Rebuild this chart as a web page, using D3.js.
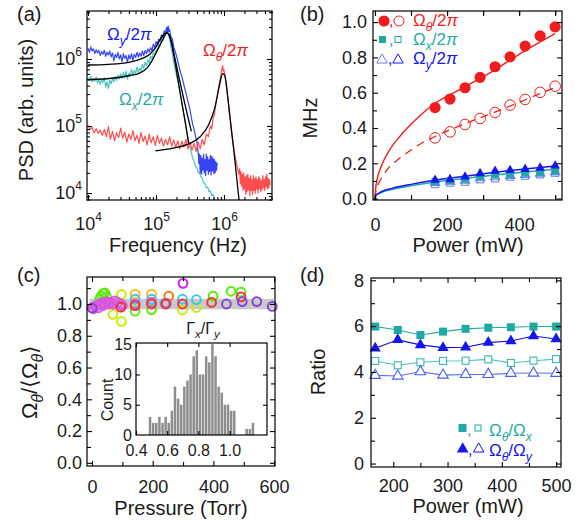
<!DOCTYPE html>
<html>
<head>
<meta charset="utf-8">
<script src="https://cdn.jsdelivr.net/npm/d3@7"></script>
<style>
  body { margin: 0; background: #fff; }
  svg { font-family: "Liberation Sans", Arial, Helvetica, sans-serif; }
</style>
</head>
<body>
<div id="chart"></div>
<script>

// (a) PSD traces as [log10(f / Hz), log10(PSD)]
var psdY = [[4.00,6.16],[4.02,6.10],[4.04,6.18],[4.06,6.12],[4.08,6.15],[4.10,6.08],[4.12,6.14],[4.14,6.09],
  [4.16,6.13],[4.18,6.05],[4.20,6.11],[4.22,6.07],[4.24,6.13],[4.26,6.04],[4.28,6.10],[4.30,6.06],[4.32,6.12],
  [4.34,6.03],[4.36,6.09],[4.38,5.97],[4.40,6.07],[4.42,6.02],[4.44,6.10],[4.46,6.00],[4.48,6.06],[4.50,5.96],
  [4.52,6.08],[4.54,6.01],[4.56,6.05],[4.58,5.95],[4.60,6.06],[4.62,6.00],[4.64,6.08],[4.66,5.98],[4.68,6.07],
  [4.70,6.02],[4.72,6.10],[4.74,6.03],[4.76,6.09],[4.78,6.04],[4.80,6.12],[4.82,6.05],[4.84,6.13],[4.86,6.08],
  [4.88,6.15],[4.90,6.10],[4.92,6.17],[4.94,6.12],[4.96,6.22],[4.98,6.17],[5.00,6.26],[5.02,6.22],[5.04,6.30],
  [5.06,6.27],[5.08,6.36],[5.10,6.32],[5.12,6.42],[5.14,6.38],[5.16,6.47],[5.17,6.40],[5.18,6.49],[5.19,6.41],
  [5.20,6.44],[5.22,6.33],[5.24,6.30],[5.26,6.18],[5.28,6.12],[5.30,6.05],[5.32,5.97],[5.34,5.88],[5.36,5.80],
  [5.38,5.74],[5.40,5.66],[5.42,5.57],[5.44,5.50],[5.46,5.40],[5.48,5.33],[5.50,5.24],[5.52,5.12],[5.54,5.02],
  [5.56,4.95],[5.58,4.85],[5.60,4.78],[5.62,4.60],[5.63,4.44],[5.64,4.58],[5.65,4.30],[5.66,4.56],[5.67,4.28],
  [5.68,4.52],[5.69,4.34],[5.70,4.58],[5.71,4.30],[5.72,4.50],[5.73,4.26],[5.74,4.58],[5.75,4.34],[5.76,4.54],
  [5.77,4.28],[5.78,4.50],[5.79,4.32],[5.80,4.56],[5.81,4.27],[5.82,4.55],[5.83,4.33],[5.84,4.52],[5.85,4.29],
  [5.86,4.50],[5.87,4.30],[5.88,4.47],[5.89,4.34],[5.90,4.45]];

var psdX = [[4.00,5.72],[4.02,5.68],[4.04,5.74],[4.06,5.66],[4.08,5.71],[4.10,5.67],[4.12,5.73],[4.14,5.64],
  [4.16,5.70],[4.18,5.62],[4.20,5.69],[4.22,5.65],[4.24,5.72],[4.26,5.58],[4.28,5.66],[4.30,5.56],[4.32,5.68],
  [4.34,5.63],[4.36,5.72],[4.38,5.66],[4.40,5.74],[4.42,5.68],[4.44,5.76],[4.46,5.70],[4.48,5.78],[4.50,5.71],
  [4.52,5.80],[4.54,5.72],[4.56,5.82],[4.58,5.70],[4.60,5.79],[4.62,5.74],[4.64,5.85],[4.66,5.76],[4.68,5.83],
  [4.70,5.78],[4.72,5.88],[4.74,5.80],[4.76,5.86],[4.78,5.82],[4.80,5.92],[4.82,5.86],[4.84,5.95],[4.86,5.90],
  [4.88,5.99],[4.90,5.94],[4.92,6.04],[4.94,6.00],[4.96,6.09],[4.98,6.06],[5.00,6.14],[5.02,6.12],[5.04,6.22],
  [5.06,6.20],[5.08,6.30],[5.10,6.27],[5.12,6.38],[5.14,6.36],[5.15,6.46],[5.16,6.40],[5.17,6.48],[5.18,6.36],
  [5.20,6.30],[5.22,6.18],[5.24,6.08],[5.26,5.96],[5.28,5.86],[5.30,5.76],[5.32,5.67],[5.34,5.56],[5.36,5.45],
  [5.38,5.35],[5.40,5.22],[5.42,5.11],[5.44,4.98],[5.46,4.88],[5.48,4.76],[5.50,4.68],[5.52,4.60],[5.54,4.52],
  [5.56,4.47],[5.58,4.40],[5.60,4.38],[5.62,4.31],[5.64,4.30],[5.66,4.24],[5.68,4.22],[5.70,4.15],[5.72,4.14],
  [5.74,4.08],[5.76,4.09],[5.78,4.02],[5.80,4.03],[5.82,3.96],[5.84,3.98],[5.86,3.91],[5.88,3.88]];

var psdTheta = [[4.00,5.01],[4.03,4.95],[4.06,4.98],[4.09,4.90],[4.12,4.96],[4.15,4.89],[4.18,4.94],[4.21,4.86],
  [4.24,4.95],[4.27,4.84],[4.30,4.99],[4.33,4.80],[4.36,4.92],[4.39,4.78],[4.42,4.90],[4.45,4.83],[4.48,4.97],
  [4.51,4.82],[4.54,4.91],[4.57,4.76],[4.60,4.88],[4.63,4.80],[4.66,4.93],[4.69,4.78],[4.72,4.86],[4.75,4.74],
  [4.78,4.90],[4.81,4.77],[4.84,4.85],[4.87,4.72],[4.90,4.88],[4.93,4.75],[4.96,4.84],[4.99,4.71],[5.02,4.86],
  [5.05,4.74],[5.08,4.82],[5.11,4.70],[5.14,4.80],[5.17,4.72],[5.20,4.84],[5.23,4.70],[5.26,4.79],[5.29,4.68],
  [5.32,4.78],[5.35,4.66],[5.38,4.77],[5.41,4.69],[5.44,4.80],[5.47,4.66],[5.50,4.76],[5.53,4.64],[5.56,4.74],
  [5.59,4.62],[5.62,4.76],[5.65,4.66],[5.68,4.80],[5.71,4.72],[5.74,4.88],[5.77,4.84],[5.80,5.00],[5.82,4.96],
  [5.84,5.12],[5.86,5.18],[5.88,5.34],[5.90,5.44],[5.92,5.58],[5.94,5.68],[5.96,5.80],[5.97,5.86],[5.98,5.90],
  [5.99,5.82],[6.00,5.84],[6.02,5.70],[6.04,5.56],[6.06,5.38],[6.08,5.18],[6.10,5.00],[6.12,4.84],[6.14,4.70],
  [6.16,4.56],[6.18,4.46],[6.20,4.36],[6.22,4.28],[6.23,4.36],[6.24,4.14],[6.25,4.32],[6.26,4.10],[6.27,4.28],
  [6.28,4.04],[6.29,4.30],[6.30,4.06],[6.31,4.24],[6.32,3.98],[6.33,4.26],[6.34,4.02],[6.35,4.28],[6.36,4.05],
  [6.37,4.22],[6.38,3.96],[6.39,4.26],[6.40,4.04],[6.41,4.20],[6.42,3.98],[6.43,4.26],[6.44,4.04],[6.45,4.22],
  [6.46,4.00],[6.47,4.24],[6.48,4.06],[6.49,4.20],[6.50,4.00],[6.51,4.24],[6.52,4.06],[6.53,4.22],[6.54,4.02],
  [6.55,4.18],[6.56,4.05],[6.57,4.26],[6.58,4.08],[6.59,4.20],[6.60,4.04],[6.61,4.24],[6.62,4.10],[6.63,4.28],
  [6.64,4.06],[6.65,4.22],[6.66,4.08],[6.67,4.20],[6.68,4.12]];

var fitY = [[4.00,5.91],[4.30,5.92],[4.60,5.95],[4.80,6.01],[4.91,6.07],[5.00,6.18],[5.05,6.27],[5.10,6.35],
  [5.15,6.39],[5.19,6.37],[5.23,6.25],[5.27,6.05],[5.32,5.81],[5.37,5.58],[5.42,5.35],[5.47,5.13],[5.52,4.92]];
var fitX = [[4.00,5.69],[4.42,5.72],[4.60,5.75],[4.76,5.79],[4.88,5.88],[4.96,6.01],[5.04,6.17],[5.11,6.31],
  [5.16,6.39],[5.21,6.31],[5.25,6.12],[5.29,5.89],[5.34,5.59],[5.39,5.29],[5.44,5.00],[5.48,4.74]];
var fitTheta = [[4.99,4.63],[5.25,4.67],[5.50,4.74],[5.65,4.84],[5.77,5.01],[5.87,5.29],[5.93,5.59],
  [5.98,5.78],[6.01,5.76],[6.06,5.39],[6.11,4.94],[6.16,4.49],[6.21,4.00],[6.23,3.82]];

// (b) and (d) share the laser powers (mW)
var power = [166.7, 208.3, 250, 291.7, 333.3, 375, 416.7, 458.3, 500];
var thetaFilled = [0.516, 0.564, 0.628, 0.687, 0.747, 0.803, 0.864, 0.922, 0.973];
var thetaOpen = [0.344, 0.378, 0.420, 0.454, 0.488, 0.530, 0.562, 0.602, 0.637];
var omYFilled = [0.105, 0.109, 0.124, 0.143, 0.156, 0.161, 0.167, 0.174, 0.186];
var omXFilled = [0.095, 0.101, 0.110, 0.124, 0.133, 0.137, 0.143, 0.148, 0.156];
var omYOpen = [0.090, 0.097, 0.103, 0.116, 0.122, 0.130, 0.135, 0.142, 0.150];
var omXOpen = [0.082, 0.090, 0.095, 0.109, 0.114, 0.124, 0.129, 0.137, 0.146];

// fit curves in (b), [power, MHz]
var fitThetaSolid = [[0,0],[2,0.06],[5,0.10],[19,0.19],[42,0.28],[70,0.355],[112,0.445],[167,0.54],
  [232,0.615],[325,0.72],[418,0.84],[500,0.935]];
var fitThetaDash = [[0,0],[2,0.035],[5,0.06],[15,0.105],[32,0.16],[60,0.215],[100,0.275],[130,0.315],
  [167,0.352],[208,0.39],[250,0.425],[333,0.49],[417,0.56],[500,0.63]];
var fitYSolid = [[0,0],[3,0.02],[10,0.03],[19,0.04],[47,0.058],[103,0.082],[163,0.104],[249,0.127],
  [333,0.149],[416,0.168],[500,0.185]];
var fitXSolid = [[0,0],[3,0.018],[10,0.027],[19,0.036],[47,0.052],[103,0.074],[163,0.093],[249,0.114],
  [333,0.134],[416,0.151],[500,0.166]];

// (c) normalised Omega_theta vs pressure, grouped by marker colour: [Torr, value]
var cLime = [[25,1.03],[30,1.05],[36,1.065],[42,1.07],[48,1.045],[142,0.955],[196,0.965],[399,1.05],[458,1.08],[491,1.075]];
var cYellowGreen = [[69,0.935],[97,0.89],[97,1.06],[298,0.962],[344,0.978]];
var cGold = [[142,1.062],[196,1.062]];
var cOrange = [[253,1.05]];
var cCyan = [[142,1.03],[196,1.03],[240,1.005],[298,1.03],[344,1.027]];
var cPink = [[5,0.97],[10,0.985],[15,0.99],[20,0.975],[25,1.0],[30,1.005],[35,0.99],[40,1.01],[45,1.0],
  [50,1.015],[55,1.0],[60,1.01],[70,1.0],[75,1.02],[85,1.01],[95,1.0],[100,0.99],[142,1.0],[196,1.01],[245,1.005]];
var cRed = [[95,0.98],[142,0.99],[196,1.0],[243,1.0],[298,1.0],[394,1.01],[491,1.045]];
var cPurple = [[0,0.975],[443,1.0],[495,1.015],[543,1.015],[594,0.985]];
var cMagenta = [[300,1.13]];
var cBand = [0.967, 1.033];

// (c) inset histogram of Gamma_x/Gamma_y
var histLeft = [0.48,0.50,0.52,0.54,0.56,0.58,0.60,0.62,0.64,0.66,0.68,0.70,0.72,0.74,0.76,0.78,0.80,
  0.82,0.84,0.86,0.88,0.90,0.92,0.94,0.96,0.98,1.00,1.02,1.10,1.12,1.14];
var histCount = [3,2,2,3,2,3,2,4,8,6,5,8,9,10,13,14,10,10,13,12,15,13,8,7,5,5,4,4,1,1,2];
var histBin = 0.02;

// (d) frequency ratios
var ratioXFilled = [5.98, 5.83, 5.61, 5.76, 5.88, 5.93, 5.95, 5.98, 5.98];
var ratioYFilled = [5.03, 5.40, 5.18, 5.06, 5.08, 5.28, 5.35, 5.57, 5.44];
var ratioXOpen = [4.48, 4.29, 4.42, 4.48, 4.49, 4.55, 4.39, 4.49, 4.56];
var ratioYOpen = [3.85, 3.82, 4.01, 3.86, 3.89, 3.89, 3.94, 3.95, 3.94];

// ticks
var aMajor = [1e4, 1e5, 1e6];
var bXTicks = [0, 100, 200, 300, 400, 500], bXLabels = [0, 200, 400];
var bYTicks = [0.1, 0.3, 0.5, 0.7, 0.9], bYLabels = [0, 0.2, 0.4, 0.6, 0.8, 1.0];
var cXTicks = [100, 300, 500], cXLabels = [0, 200, 400, 600];
var cYTicks = [0.1, 0.3, 0.5, 0.7, 0.9, 1.1], cYLabels = [0, 0.2, 0.4, 0.6, 0.8, 1.0];
var insXLabels = [0.4, 0.6, 0.8, 1.0], insYLabels = [0, 5, 10, 15];
var dXTicks = [250, 350, 450], dXLabels = [200, 300, 400, 500];
var dYTicks = [1, 3, 5, 7], dYLabels = [0, 2, 4, 6, 8];

var RED = "#ee1c1c", BLUE = "#1515ee", TEAL = "#1fa9a3", INK = "#1a1a1a";

var svg = d3.select("#chart").append("svg")
    .attr("width", 584)
    .attr("height", 522);

var clipN = 0;
function clipped(x, y) {
  var id = "clip" + (clipN++);
  svg.append("clipPath").attr("id", id).append("rect")
      .attr("x", x.range()[0]).attr("y", y.range()[1])
      .attr("width", x.range()[1] - x.range()[0])
      .attr("height", y.range()[0] - y.range()[1]);
  return svg.append("g").attr("clip-path", "url(#" + id + ")");
}

function ticks(x, y, xv, yv, len) {
  var b = y.range()[0], t = y.range()[1], l = x.range()[0], r = x.range()[1];
  var g = svg.append("g");
  g.append("g").attr("transform", "translate(0," + b + ")")
      .call(d3.axisBottom(x).tickValues(xv).tickSize(-len).tickFormat(""));
  g.append("g").attr("transform", "translate(0," + t + ")")
      .call(d3.axisTop(x).tickValues(xv).tickSize(-len).tickFormat(""));
  g.append("g").attr("transform", "translate(" + l + ",0)")
      .call(d3.axisLeft(y).tickValues(yv).tickSize(-len).tickFormat(""));
  g.append("g").attr("transform", "translate(" + r + ",0)")
      .call(d3.axisRight(y).tickValues(yv).tickSize(-len).tickFormat(""));
  g.selectAll(".domain").remove();
  g.selectAll("line").attr("stroke", "#000").attr("stroke-width", 1.1);
}

function labels(axis, x, y, vals, pad, fmt, size) {
  var g = svg.append("g");
  if (axis === "x") {
    g.attr("transform", "translate(0," + y.range()[0] + ")")
      .call(d3.axisBottom(x).tickValues(vals).tickSize(0).tickPadding(pad).tickFormat(fmt));
  } else {
    g.attr("transform", "translate(" + x.range()[0] + ",0)")
      .call(d3.axisLeft(y).tickValues(vals).tickSize(0).tickPadding(pad).tickFormat(fmt));
  }
  g.attr("font-family", null).attr("font-size", size);
  g.select(".domain").remove();
  g.selectAll("text").attr("fill", INK);
  return g;
}

function frame(x, y) {
  svg.append("rect")
      .attr("x", x.range()[0]).attr("y", y.range()[1])
      .attr("width", x.range()[1] - x.range()[0])
      .attr("height", y.range()[0] - y.range()[1])
      .attr("fill", "none").attr("stroke", "#000").attr("stroke-width", 1.2);
}

// parts: [text, style] with style "n", "i", "sub" or "subi"
function rich(x, y, size, color, parts, anchor, rotate) {
  var t = svg.append("text")
      .attr("x", x).attr("y", y)
      .attr("font-size", size + "px")
      .attr("fill", color)
      .attr("text-anchor", anchor || "start");
  if (rotate) t.attr("transform", "rotate(-90)");
  var shift = 0;
  parts.forEach(function(p) {
    var s = t.append("tspan").text(p[0]);
    var isSub = p[1] === "sub" || p[1] === "subi";
    var want = isSub ? size * 0.28 : 0;
    if (want !== shift) { s.attr("dy", (want - shift) + "px"); shift = want; }
    if (isSub) s.attr("font-size", (size * 0.72) + "px");
    if (p[1] === "i" || p[1] === "subi") s.attr("font-style", "italic");
  });
  return t;
}

function powTen(g) {
  g.selectAll(".tick text").each(function(d) {
    var t = d3.select(this).text("");
    t.append("tspan").text("10");
    t.append("tspan").attr("dy", "-9px").attr("font-size", "12px").text(Math.round(Math.log10(d)));
  });
}

function sym(type, size) { return d3.symbol().type(type).size(size)(); }

// ---------- (a) ----------
var ax = d3.scaleLog().domain([Math.pow(10, 3.985), Math.pow(10, 6.706)]).range([87, 272]),
    ay = d3.scaleLog().domain([Math.pow(10, 3.896), Math.pow(10, 6.716)]).range([200, 11]);

var aLine = d3.line()
    .x(function(d) { return ax(Math.pow(10, d[0])); })
    .y(function(d) { return ay(Math.pow(10, d[1])); });
var aFit = d3.line().curve(d3.curveMonotoneX)
    .x(function(d) { return ax(Math.pow(10, d[0])); })
    .y(function(d) { return ay(Math.pow(10, d[1])); });

var ga = clipped(ax, ay);
[[psdX, "#35bcbc"], [psdY, "#2030f5"], [psdTheta, "#ff3a3a"]].forEach(function(s) {
  ga.append("path").datum(s[0]).attr("d", aLine)
      .attr("fill", "none").attr("stroke", s[1]).attr("stroke-width", 1.2)
      .attr("stroke-linejoin", "round").attr("opacity", 0.9);
});
[fitY, fitX, fitTheta].forEach(function(f) {
  ga.append("path").datum(f).attr("d", aFit)
      .attr("fill", "none").attr("stroke", "#000").attr("stroke-width", 1.3);
});

var aMinorX = ax.ticks().filter(function(d) { return aMajor.indexOf(d) < 0; }),
    aMinorY = ay.ticks().filter(function(d) { return aMajor.indexOf(d) < 0; });
ticks(ax, ay, aMajor, aMajor, 5);
ticks(ax, ay, aMinorX, aMinorY, 3);
labels("x", ax, ay, aMajor, 17, d3.format("d"), 18).call(powTen);
labels("y", ax, ay, aMajor, 5, d3.format("d"), 18).call(powTen);
frame(ax, ay);

rich(107, 40, 17, BLUE, [["Ω", "n"], ["y", "subi"], ["/2", "n"], ["π", "i"]]);
rich(119, 105, 17, TEAL, [["Ω", "n"], ["x", "subi"], ["/2", "n"], ["π", "i"]]);
rich(203, 56, 17, RED, [["Ω", "n"], ["θ", "subi"], ["/2", "n"], ["π", "i"]]);
rich(-110, 33, 20, INK, [["PSD (arb. units)", "n"]], "middle", true);
rich(178, 252, 20, INK, [["Frequency (Hz)", "n"]], "middle");

// ---------- (b) ----------
var bx = d3.scaleLinear().domain([-5.5, 519]).range([373, 562]),
    by = d3.scaleLinear().domain([-0.008, 1.063]).range([200, 11]);

var bLine = d3.line().curve(d3.curveMonotoneX)
    .x(function(d) { return bx(d[0]); })
    .y(function(d) { return by(d[1]); });

var gb = clipped(bx, by);
gb.append("path").datum(fitThetaSolid).attr("d", bLine)
    .attr("fill", "none").attr("stroke", RED).attr("stroke-width", 1.4);
gb.append("path").datum(fitThetaDash).attr("d", bLine)
    .attr("fill", "none").attr("stroke", RED).attr("stroke-width", 1.3).attr("stroke-dasharray", "8,6");
gb.append("path").datum(fitXSolid).attr("d", bLine)
    .attr("fill", "none").attr("stroke", TEAL).attr("stroke-width", 1.5);
gb.append("path").datum(fitYSolid).attr("d", bLine)
    .attr("fill", "none").attr("stroke", BLUE).attr("stroke-width", 1.5);

gb.selectAll(".om-xo").data(omXOpen).enter().append("rect")
    .attr("x", function(d, i) { return bx(power[i]) - 3.5; })
    .attr("y", function(d) { return by(d) - 3.5; })
    .attr("width", 7).attr("height", 7)
    .attr("fill", "none").attr("stroke", "#7d8fe6").attr("stroke-width", 1.2);
gb.selectAll(".om-yo").data(omYOpen).enter().append("path")
    .attr("d", sym(d3.symbolTriangle, 38))
    .attr("transform", function(d, i) { return "translate(" + bx(power[i]) + "," + by(d) + ")"; })
    .attr("fill", "none").attr("stroke", "#6a7cff").attr("stroke-width", 1.1);
gb.selectAll(".om-xf").data(omXFilled).enter().append("rect")
    .attr("x", function(d, i) { return bx(power[i]) - 3.5; })
    .attr("y", function(d) { return by(d) - 3.5; })
    .attr("width", 7).attr("height", 7)
    .attr("fill", TEAL);
gb.selectAll(".om-yf").data(omYFilled).enter().append("path")
    .attr("d", sym(d3.symbolTriangle, 40))
    .attr("transform", function(d, i) { return "translate(" + bx(power[i]) + "," + by(d) + ")"; })
    .attr("fill", BLUE);
gb.selectAll(".th-o").data(thetaOpen).enter().append("circle")
    .attr("cx", function(d, i) { return bx(power[i]); })
    .attr("cy", function(d) { return by(d); })
    .attr("r", 5.3)
    .attr("fill", "none").attr("stroke", RED).attr("stroke-width", 1);
gb.selectAll(".th-f").data(thetaFilled).enter().append("circle")
    .attr("cx", function(d, i) { return bx(power[i]); })
    .attr("cy", function(d) { return by(d); })
    .attr("r", 5.6)
    .attr("fill", RED);

ticks(bx, by, bXTicks, bYLabels, 5);
ticks(bx, by, bXTicks, bYTicks, 4);
labels("x", bx, by, bXLabels, 18, d3.format("d"), 18);
labels("y", bx, by, bYLabels, 6, d3.format(".1f"), 18);
frame(bx, by);

svg.append("circle").attr("cx", 384).attr("cy", 21).attr("r", 5.6).attr("fill", RED);
svg.append("circle").attr("cx", 399).attr("cy", 21).attr("r", 5).attr("fill", "none").attr("stroke", RED).attr("stroke-width", 1);
svg.append("rect").attr("x", 379).attr("y", 36).attr("width", 7).attr("height", 7).attr("fill", TEAL);
svg.append("rect").attr("x", 395).attr("y", 36.5).attr("width", 6).attr("height", 6).attr("fill", "none").attr("stroke", TEAL).attr("stroke-width", 1);
svg.append("path").attr("d", sym(d3.symbolTriangle, 48)).attr("transform", "translate(382,60)")
    .attr("fill", "none").attr("stroke", "#6a7cff").attr("stroke-width", 1);
svg.append("path").attr("d", sym(d3.symbolTriangle, 48)).attr("transform", "translate(398,60)")
    .attr("fill", "none").attr("stroke", BLUE).attr("stroke-width", 1);
rich(389, 26, 16, RED, [[",", "n"]]);
rich(389, 45, 16, TEAL, [[",", "n"]]);
rich(388, 64, 16, BLUE, [[",", "n"]]);
rich(413, 26, 17, RED, [["Ω", "n"], ["θ", "subi"], ["/2", "n"], ["π", "i"]]);
rich(413, 45, 17, TEAL, [["Ω", "n"], ["x", "subi"], ["/2", "n"], ["π", "i"]]);
rich(413, 64, 17, BLUE, [["Ω", "n"], ["y", "subi"], ["/2", "n"], ["π", "i"]]);
rich(-118, 317, 20, INK, [["MHz", "n"]], "middle", true);
rich(468, 252, 20, INK, [["Power (mW)", "n"]], "middle");

// ---------- (c) ----------
var cx = d3.scaleLinear().domain([-16.5, 603]).range([87, 275]),
    cy = d3.scaleLinear().domain([-0.02, 1.17]).range([466, 277]);

svg.append("rect")
    .attr("x", cx(-8)).attr("y", cy(cBand[1]))
    .attr("width", cx(600) - cx(-8)).attr("height", cy(cBand[0]) - cy(cBand[1]))
    .attr("fill", "#c9c9c9");

[[cLime, "#5fe812"], [cYellowGreen, "#c6ec0c"], [cGold, "#ffbd18"], [cOrange, "#ff7a12"],
 [cCyan, "#3ac6ee"], [cPink, "#d957dc"], [cRed, "#ee3340"], [cPurple, "#8046dc"], [cMagenta, "#cc22ee"]]
  .forEach(function(s) {
    svg.append("g").selectAll("circle").data(s[0]).enter().append("circle")
        .attr("cx", function(d) { return cx(d[0]); })
        .attr("cy", function(d) { return cy(d[1]); })
        .attr("r", 4.4)
        .attr("fill", "none").attr("stroke", s[1]).attr("stroke-width", 2);
  });

ticks(cx, cy, cXLabels, cYLabels, 5);
ticks(cx, cy, cXTicks, cYTicks, 4);
labels("x", cx, cy, cXLabels, 14, d3.format("d"), 18);
labels("y", cx, cy, cYLabels, 5, d3.format(".1f"), 18);
frame(cx, cy);

// inset
var ix = d3.scaleLinear().domain([0.4, 1.24]).range([136, 267]),
    iy = d3.scaleLinear().domain([0, 15.2]).range([435, 343]);
svg.append("rect").attr("x", 136).attr("y", 343).attr("width", 131).attr("height", 92).attr("fill", "#fff");
svg.append("g").selectAll("rect").data(histCount).enter().append("rect")
    .attr("x", function(d, i) { return ix(histLeft[i]) + 0.3; })
    .attr("y", function(d) { return iy(d); })
    .attr("width", ix(histBin) - ix(0) - 0.6)
    .attr("height", function(d) { return iy(0) - iy(d); })
    .attr("fill", "#8e8e8e");
ticks(ix, iy, insXLabels, [5, 10], 4);
labels("x", ix, iy, insXLabels, 10, d3.format(".1f"), 16);
labels("y", ix, iy, insYLabels, 4, d3.format("d"), 16);
frame(ix, iy);
rich(203, 334, 16, INK, [["Γ", "n"], ["x", "subi"], ["/Γ", "n"], ["y", "subi"]], "middle");
rich(-400, 113, 16, INK, [["Count", "n"]], "middle", true);

rich(-382, 37, 22, INK, [["Ω", "n"], ["θ", "subi"], ["/⟨Ω", "n"], ["θ", "subi"], ["⟩", "n"]], "middle", true);
rich(181, 515, 20, INK, [["Pressure (Torr)", "n"]], "middle");

// ---------- (d) ----------
var dx = d3.scaleLinear().domain([159, 509]).range([371, 561]),
    dy = d3.scaleLinear().domain([-0.15, 8.1]).range([467, 278]);

var dLine = d3.line()
    .x(function(d, i) { return dx(power[i]); })
    .y(function(d) { return dy(d); });

[[ratioXOpen, "#4fc0bb"], [ratioYOpen, "#5a6cff"], [ratioXFilled, TEAL], [ratioYFilled, "#1010dd"]].forEach(function(s) {
  svg.append("path").datum(s[0]).attr("d", dLine)
      .attr("fill", "none").attr("stroke", s[1]).attr("stroke-width", 1.1);
});
svg.append("g").selectAll("rect").data(ratioXOpen).enter().append("rect")
    .attr("x", function(d, i) { return dx(power[i]) - 3.5; })
    .attr("y", function(d) { return dy(d) - 3.5; })
    .attr("width", 7).attr("height", 7)
    .attr("fill", "#fff").attr("stroke", "#3ab7b1").attr("stroke-width", 1.1);
svg.append("g").selectAll("path").data(ratioYOpen).enter().append("path")
    .attr("d", sym(d3.symbolTriangle, 48))
    .attr("transform", function(d, i) { return "translate(" + dx(power[i]) + "," + dy(d) + ")"; })
    .attr("fill", "#fff").attr("stroke", "#4a5cff").attr("stroke-width", 1.1);
svg.append("g").selectAll("rect").data(ratioXFilled).enter().append("rect")
    .attr("x", function(d, i) { return dx(power[i]) - 4; })
    .attr("y", function(d) { return dy(d) - 4; })
    .attr("width", 8).attr("height", 8)
    .attr("fill", TEAL);
svg.append("g").selectAll("path").data(ratioYFilled).enter().append("path")
    .attr("d", sym(d3.symbolTriangle, 55))
    .attr("transform", function(d, i) { return "translate(" + dx(power[i]) + "," + dy(d) + ")"; })
    .attr("fill", BLUE);

ticks(dx, dy, dXLabels, dYLabels, 5);
ticks(dx, dy, dXTicks, dYTicks, 4);
labels("x", dx, dy, dXLabels, 12, d3.format("d"), 18);
labels("y", dx, dy, dYLabels, 7, d3.format("d"), 18);
frame(dx, dy);

svg.append("rect").attr("x", 458.5).attr("y", 424).attr("width", 8).attr("height", 8).attr("fill", TEAL);
svg.append("rect").attr("x", 475).attr("y", 425).attr("width", 6).attr("height", 6).attr("fill", "none").attr("stroke", TEAL).attr("stroke-width", 1);
svg.append("path").attr("d", sym(d3.symbolTriangle, 60)).attr("transform", "translate(462.7,449)").attr("fill", BLUE);
svg.append("path").attr("d", sym(d3.symbolTriangle, 48)).attr("transform", "translate(478.7,449)")
    .attr("fill", "none").attr("stroke", BLUE).attr("stroke-width", 1);
rich(467, 435, 16, TEAL, [[",", "n"]]);
rich(468, 455, 16, BLUE, [[",", "n"]]);
rich(489, 436, 17, TEAL, [["Ω", "n"], ["θ", "subi"], ["/Ω", "n"], ["x", "subi"]]);
rich(489, 456, 17, BLUE, [["Ω", "n"], ["θ", "subi"], ["/Ω", "n"], ["y", "subi"]]);
rich(-372, 325, 20, INK, [["Ratio", "n"]], "middle", true);
rich(468, 513, 20, INK, [["Power (mW)", "n"]], "middle");

// panel letters
rich(17, 21, 20, INK, [["(a)", "n"]]);
rich(300, 21, 20, INK, [["(b)", "n"]]);
rich(17, 282, 20, INK, [["(c)", "n"]]);
rich(300, 282, 20, INK, [["(d)", "n"]]);

</script>
</body>
</html>
